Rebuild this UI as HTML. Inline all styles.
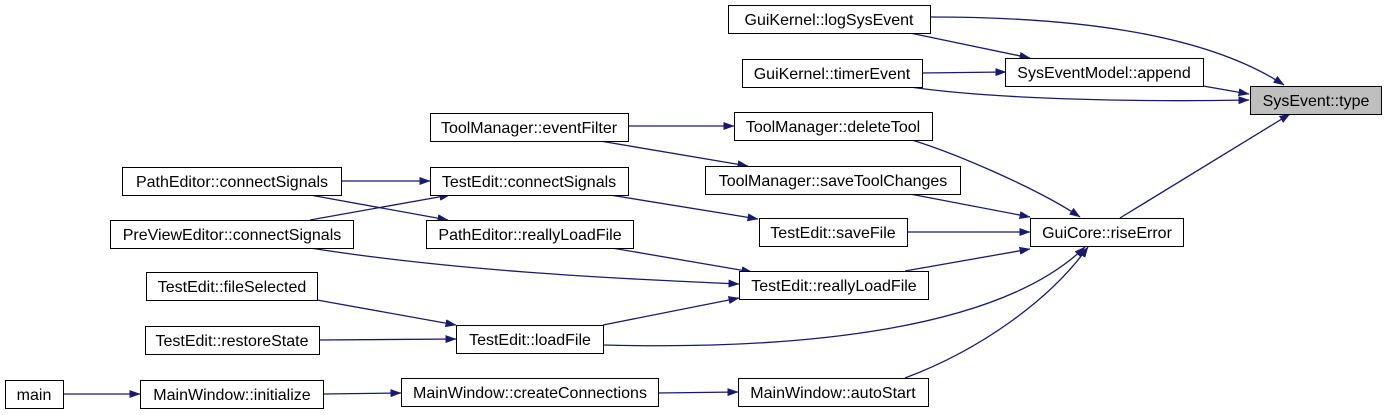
<!DOCTYPE html>
<html><head><meta charset="utf-8"><style>
html,body{margin:0;padding:0;background:#fff;}
svg{display:block;}
text{font-family:"Liberation Sans",Arial,sans-serif;font-size:16px;fill:#000;}
</style></head><body>
<svg width="1384" height="415" viewBox="0 0 1384 415" xmlns="http://www.w3.org/2000/svg">
<defs>
<marker id="a" markerWidth="11" markerHeight="8" refX="10.5" refY="4" orient="auto" markerUnits="userSpaceOnUse">
<path d="M0,0 L11,4 L0,8 Z" fill="#191970"/>
</marker>
</defs>
<g fill="none" stroke="#191970" stroke-width="1.3" marker-end="url(#a)">
<path d="M930,17 C1060,17 1200,30 1284,85"/>
<path d="M910,33 L1030,58"/>
<path d="M922,73 L1006,72"/>
<path d="M910,87 C1000,100 1150,102 1249,100"/>
<path d="M1203,86 L1249,94"/>
<path d="M1120,218 L1290,114"/>
<path d="M628,126 L734,126"/>
<path d="M600,141 L748,166"/>
<path d="M912,140 C960,155 1040,190 1080,217"/>
<path d="M910,194 L1030,217"/>
<path d="M341,181 L430,181"/>
<path d="M310,195 L448,220"/>
<path d="M310,220 L450,195"/>
<path d="M310,248 C450,270 600,278 739,284"/>
<path d="M610,195 L758,219"/>
<path d="M612,248 L752,272"/>
<path d="M907,232 L1030,232"/>
<path d="M905,271 L1030,249"/>
<path d="M317,300 L456,325"/>
<path d="M319,340 L456,339"/>
<path d="M603,325 L739,298"/>
<path d="M603,345 C800,350 1000,330 1085,247"/>
<path d="M905,378 C980,350 1050,300 1088,247"/>
<path d="M63,394 L140,394"/>
<path d="M323,394 L401,393"/>
<path d="M658,393 L738,392"/>
</g>
<g stroke="#000" stroke-width="1" fill="#fff">
<rect x="728.5" y="5.5" width="202" height="28"/>
<rect x="742.5" y="59.5" width="180" height="28"/>
<rect x="1005.5" y="58.5" width="198" height="28"/>
<rect x="1250.5" y="86.5" width="131" height="28" fill="#bfbfbf"/>
<rect x="430.5" y="113.5" width="198" height="28"/>
<rect x="734.5" y="112.5" width="198" height="28"/>
<rect x="705.5" y="166.5" width="255" height="28"/>
<rect x="122.5" y="167.5" width="219" height="28"/>
<rect x="430.5" y="167.5" width="198" height="28"/>
<rect x="110.5" y="220.5" width="243" height="28"/>
<rect x="426.5" y="220.5" width="207" height="28"/>
<rect x="759.5" y="218.5" width="148" height="28"/>
<rect x="1030.5" y="218.5" width="153" height="28"/>
<rect x="739.5" y="271.5" width="189" height="28"/>
<rect x="146.5" y="272.5" width="171" height="28"/>
<rect x="145.5" y="326.5" width="174" height="28"/>
<rect x="456.5" y="325.5" width="147" height="28"/>
<rect x="5.5" y="380.5" width="58" height="28"/>
<rect x="140.5" y="380.5" width="183" height="28"/>
<rect x="401.5" y="378.5" width="257" height="28"/>
<rect x="738.5" y="378.5" width="190" height="28"/>
</g>
<g text-anchor="middle">
<text x="829" y="25">GuiKernel::logSysEvent</text>
<text x="832" y="79">GuiKernel::timerEvent</text>
<text x="1104" y="78">SysEventModel::append</text>
<text x="1316" y="106">SysEvent::type</text>
<text x="529" y="133">ToolManager::eventFilter</text>
<text x="833" y="132">ToolManager::deleteTool</text>
<text x="833" y="186">ToolManager::saveToolChanges</text>
<text x="232" y="187">PathEditor::connectSignals</text>
<text x="529" y="187">TestEdit::connectSignals</text>
<text x="232" y="240">PreViewEditor::connectSignals</text>
<text x="530" y="240">PathEditor::reallyLoadFile</text>
<text x="833" y="238">TestEdit::saveFile</text>
<text x="1107" y="238">GuiCore::riseError</text>
<text x="834" y="291">TestEdit::reallyLoadFile</text>
<text x="232" y="292">TestEdit::fileSelected</text>
<text x="232" y="346">TestEdit::restoreState</text>
<text x="530" y="345">TestEdit::loadFile</text>
<text x="34" y="400">main</text>
<text x="232" y="400">MainWindow::initialize</text>
<text x="530" y="398">MainWindow::createConnections</text>
<text x="833" y="398">MainWindow::autoStart</text>
</g>
</svg>
</body></html>
